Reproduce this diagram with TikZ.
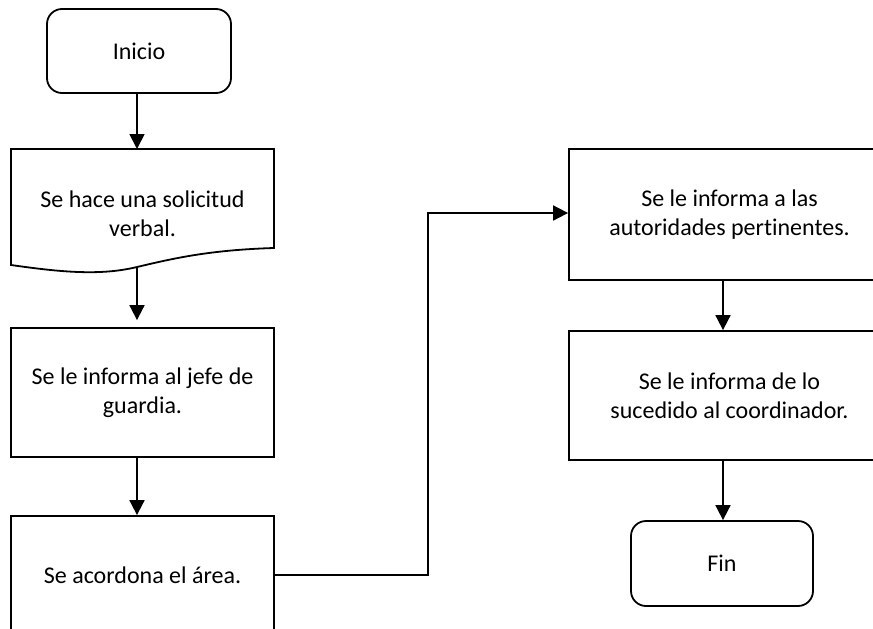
\documentclass[tikz,border=0pt]{standalone}
\usepackage{fontspec}
\setmainfont[Ligatures=NoCommon]{Carlito}
\usetikzlibrary{arrows.meta}
\begin{document}
\begin{tikzpicture}[x=1pt,y=-1pt,line width=1.8pt,
  txt/.style={align=center,inner sep=0pt,font=\fontsize{24}{29}\selectfont},
  term/.style={txt,draw,rounded corners=15pt},
  proc/.style={txt,draw},
  arr/.style={-{Triangle[length=15pt,width=15pt]}}]
\useasboundingbox (0,0) rectangle (873,629);
\clip (0,0) rectangle (873,629);
\coordinate (L) at (137,0);
\coordinate (R) at (723,0);
% left column
\node[term,minimum width=184pt,minimum height=84pt] (inicio) at (139,51) {Inicio};
\draw (11,149) coordinate (doctl) -- (274,149) -- (274,248)
  .. controls (210,250) and (175,258) .. (137,267) coordinate (docb)
  .. controls (100,276) and (60,272) .. (11,265) -- cycle;
\node[txt] (doc) at (142.5,213.5) {Se hace una solicitud\\verbal.};
\coordinate (doctop) at (137,149);
\node[proc,minimum width=263pt,minimum height=129pt] (box2) at (142.5,392.5) {Se le informa al jefe de\\guardia.};
\node[proc,minimum width=263pt,minimum height=118pt] (box3) at (142.5,575) {Se acordona el área.};
% right column
\node[proc,minimum width=321pt,minimum height=131pt] (box4) at (729.5,214.5) {Se le informa a las\\autoridades pertinentes.};
\node[proc,minimum width=321pt,minimum height=129pt] (box5) at (729.5,395.5) {Se le informa de lo\\sucedido al coordinador.};
\node[term,minimum width=182pt,minimum height=85pt] (fin) at (722,563.5) {Fin};
% connectors
\draw[arr] (inicio.south -| L) -- (doctop);
\draw[arr,shorten >=7pt] (docb) -- (box2.north -| L);
\draw[arr] (box2.south -| L) -- (box3.north -| L);
\coordinate (mid) at (428,0);
\draw[arr] (box3.east) -- (box3.east -| mid) -- (mid |- 0,213) -- (box4.west |- 0,213);
\draw[arr] (box4.south -| R) -- (box5.north -| R);
\draw[arr] (box5.south -| R) -- (fin.north -| R);
\end{tikzpicture}
\end{document}
